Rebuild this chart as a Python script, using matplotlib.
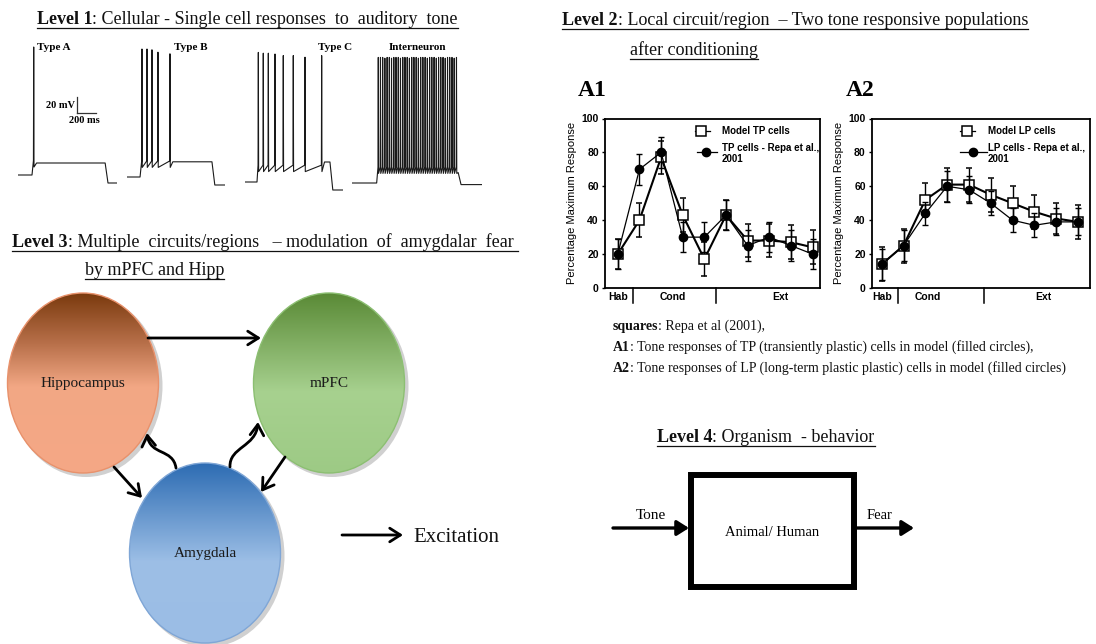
import numpy as np
import matplotlib
matplotlib.use('Agg')
import matplotlib.pyplot as plt
import matplotlib.transforms as mtransforms
from matplotlib.patches import Ellipse, FancyArrowPatch, Rectangle
from matplotlib.path import Path
from matplotlib.colors import LinearSegmentedColormap

# ---------------- data ----------------
# Level 1: single cell voltage traces (time in ms, voltage in mV)
cell_names = ['Type A', 'Type B', 'Type C', 'Interneuron']
trace_end_ms = [1040, 1030, 1030, 1365]
stim_on_ms = [147, 137, 126, 259]
stim_off_ms = [915, 892, 892, 1115]
rest_mV = [-70, -70, -70, -70]
post_mV = [-80, -80, -80, -72]
plateau_mV = [-55, -51, -45, -57]
trough_mV = [-60, -58, -57, -58]
spikes_A = [165]
peaks_A = [90]
spikes_B = [157, 210, 262, 325, 451]
peaks_B = [90, 90, 89, 86, 84]
spikes_C = [140, 192, 245, 315, 402, 507, 630, 805]
peaks_C = [92, 91, 91, 90, 88, 88, 86, 88]
spikes_I = [276, 299, 322, 345, 369, 392, 415, 439, 462, 486, 509, 533,
            556, 580, 603, 627, 650, 674, 697, 721, 744, 768, 791, 815,
            838, 862, 885, 909, 932, 956, 979, 1003, 1026, 1050, 1073, 1097]
peaks_I = [87, 87, 87, 86, 87, 87, 86, 87, 87, 87, 86, 87,
           87, 87, 86, 87, 87, 87, 86, 87, 87, 87, 86, 87,
           87, 87, 86, 87, 87, 87, 86, 87, 87, 87, 86, 87]
scale_mV = 20
scale_ms = 200

# Level 2: tone responses (percentage maximum response)
trials = [1, 2, 3, 4, 5, 6, 7, 8, 9, 10]
groups = ['Hab', 'Cond', 'Ext']
A1_model = [20, 40, 77, 43, 17, 43, 28, 28, 27, 24]
A1_model_err = [9, 10, 10, 10, 10, 9, 10, 10, 10, 10]
A1_repa = [20, 70, 80, 30, 30, 43, 25, 30, 25, 20]
A1_repa_err = [9, 9, 9, 9, 9, 9, 9, 9, 9, 9]
A1_group_pos = [1.0, 3.55, 8.5]
A1_sep = [1.72, 5.52]
A2_model = [14, 25, 52, 61, 61, 55, 50, 45, 41, 39]
A2_model_err = [10, 10, 10, 10, 10, 10, 10, 10, 9, 10]
A2_repa = [14, 25, 44, 60, 58, 50, 40, 37, 39, 39]
A2_repa_err = [9, 9, 7, 9, 8, 7, 7, 7, 8, 8]
A2_group_pos = [1.0, 3.1, 8.4]
A2_sep = [1.73, 5.67]
yticks = [0, 20, 40, 60, 80, 100]

# ---------------- figure ----------------
W, H = 1096, 644
fig = plt.figure(figsize=(W / 100, H / 100), dpi=100)
fig.patch.set_facecolor('white')
ov = fig.add_axes([0, 0, 1, 1])
ov.set_xlim(0, W); ov.set_ylim(H, 0); ov.axis('off')
ov.set_autoscale_on(False)
SERIF = 'Liberation Serif'
SANS = 'Liberation Sans'
renderer = fig.canvas.get_renderer()


def px_axes(left, top, right, bottom):
    return fig.add_axes([left / W, 1 - bottom / H, (right - left) / W, (bottom - top) / H])


def mixed(x, y, parts, size, underline=False, ul_off=4):
    cx = x
    for txt, wt in parts:
        t = ov.text(cx, y, txt, fontsize=size, fontweight=wt, family=SERIF,
                    va='baseline', ha='left', color='#111111')
        cx += t.get_window_extent(renderer=renderer).width
    if underline:
        ov.plot([x, cx], [y + ul_off, y + ul_off], color='#111111', lw=0.9)
    return cx


# ---------------- Level 1 ----------------
mixed(37, 24, [('Level 1', 'bold'), (': Cellular - Single cell responses  to  auditory  tone', 'normal')],
      13, underline=True)


def build_trace(t_end, on, off, rest, post, plateau, trough, spikes, peaks):
    t = [0, on]
    v = [rest, rest]
    for ts, pk in zip(spikes, peaks):
        t += [ts - 3, ts, ts + 3]
        v += [trough + 8, pk, trough]
    last = spikes[-1]
    t_rec = min(last + 30, off)
    t += [t_rec, off, off + 30, t_end]
    v += [plateau, plateau, post, post]
    return t, v


ms_per_px = 10.5
mV_per_px = 1.25
panel_left = [18, 127, 245, 352]
panel_base = [175, 177, 182, 183]
all_spikes = [spikes_A, spikes_B, spikes_C, spikes_I]
all_peaks = [peaks_A, peaks_B, peaks_C, peaks_I]
trace_axes = []
for i in range(4):
    wpx = trace_end_ms[i] / ms_per_px
    bottom = panel_base[i] + (rest_mV[i] + 100) / mV_per_px
    top = bottom - 200 / mV_per_px
    a = px_axes(panel_left[i], top, panel_left[i] + wpx, bottom)
    a.set_xlim(0, trace_end_ms[i]); a.set_ylim(-100, 100); a.axis('off')
    t, v = build_trace(trace_end_ms[i], stim_on_ms[i], stim_off_ms[i], rest_mV[i], post_mV[i],
                       plateau_mV[i], trough_mV[i], all_spikes[i], all_peaks[i])
    a.plot(t, v, color='#1a1a1a', lw=0.8)
    trace_axes.append(a)

label_pos = [(37, 47, 'left'), (174, 47, 'left'), (318, 47, 'left'), (417, 47, 'center')]
for name, (x, y, ha) in zip(cell_names, label_pos):
    ov.text(x, y, name, fontsize=8, fontweight='bold', family=SERIF, ha=ha, va='center')

# scale bar in Type A panel
aA = trace_axes[0]
sb_t, sb_v = 620, 7.5
aA.plot([sb_t, sb_t], [sb_v, sb_v + scale_mV], color='#333333', lw=0.9)
aA.plot([sb_t, sb_t + scale_ms], [sb_v, sb_v], color='#333333', lw=0.9)
aA.text(sb_t - 25, sb_v + scale_mV / 2, '%d mV' % scale_mV, fontsize=7.5, fontweight='bold',
        family=SERIF, ha='right', va='center')
aA.text(sb_t + scale_ms / 2 - 20, sb_v - 4, '%d ms' % scale_ms, fontsize=7.5, fontweight='bold',
        family=SERIF, ha='center', va='top')

# ---------------- Level 2 ----------------
mixed(562, 25, [('Level 2', 'bold'), (': Local circuit/region  – Two tone responsive populations', 'normal')],
      13, underline=True)
mixed(630, 55, [('after conditioning', 'normal')], 13, underline=True)
ov.text(578, 90, 'A1', fontsize=17, fontweight='bold', family=SERIF, va='center')
ov.text(846, 90, 'A2', fontsize=17, fontweight='bold', family=SERIF, va='center')


def chart(box, xlim, model, model_err, repa, repa_err, gpos, seps, leg_model, leg_repa, leg):
    ax = px_axes(*box)
    ax.set_xlim(*xlim); ax.set_ylim(0, 100)
    ax.errorbar(trials, model, yerr=model_err, fmt='-s', color='k', mfc='white', mec='k',
                ms=6.5, mew=1.1, lw=1.5, elinewidth=1, capsize=2, capthick=1, zorder=3)
    ax.errorbar(trials, repa, yerr=repa_err, fmt='-o', color='k', mfc='k', mec='k',
                ms=6, lw=0.9, elinewidth=1, capsize=2, capthick=1, zorder=4)
    for s in ax.spines.values():
        s.set_linewidth(1.3)
    ax.set_xticks([])
    ax.set_yticks(yticks)
    ax.set_yticklabels([str(v) for v in yticks], fontsize=7.5, fontweight='bold', family=SANS)
    ax.tick_params(axis='y', length=2.5, width=1, pad=2)
    ax.set_ylabel('Percentage Maximum Response', fontsize=8, family=SANS, labelpad=3)
    tr = mtransforms.blended_transform_factory(ax.transData, ax.transAxes)
    for g, p in zip(groups, gpos):
        ax.text(p, -0.055, g, transform=tr, fontsize=7.5, fontweight='bold', family=SANS,
                ha='center', va='center')
    for s in seps:
        ax.plot([s, s], [0, -0.09], transform=tr, color='k', lw=1.1, clip_on=False)
    # legend
    (l1a, l1b, m1, tx), (l2a, l2b, m2) = leg
    ax.plot([l1a, l1b], [0.926, 0.926], transform=ax.transAxes, color='k', lw=0.9, clip_on=False)
    ax.plot([m1], [0.926], transform=ax.transAxes, marker='s', ms=6.5, mfc='white', mec='k', mew=1.1,
            clip_on=False)
    ax.text(tx, 0.926, leg_model, transform=ax.transAxes, fontsize=7, fontweight='bold', family=SANS,
            va='center', ha='left')
    ax.plot([l2a, l2b], [0.802, 0.802], transform=ax.transAxes, color='k', lw=0.9, clip_on=False)
    ax.plot([m2], [0.802], transform=ax.transAxes, marker='o', ms=6, mfc='k', mec='k', clip_on=False)
    ax.text(tx, 0.855, leg_repa, transform=ax.transAxes, fontsize=7, fontweight='bold', family=SANS,
            va='top', ha='left', linespacing=1.15)
    return ax


axA1 = chart((605, 118.5, 820, 288), (0.41, 10.34), A1_model, A1_model_err, A1_repa, A1_repa_err,
             A1_group_pos, A1_sep, 'Model TP cells', 'TP cells - Repa et al.,\n2001',
             ((0.419, 0.488, 0.447, 0.544), (0.428, 0.521, 0.470)))
axA2 = chart((872, 118.5, 1090, 288), (0.555, 10.55), A2_model, A2_model_err, A2_repa, A2_repa_err,
             A2_group_pos, A2_sep, 'Model LP cells', 'LP cells - Repa et al.,\n2001',
             ((0.404, 0.474, 0.436, 0.532), (0.404, 0.528, 0.463)))

mixed(613, 330, [('squares', 'bold'), (': Repa et al (2001),', 'normal')], 10)
mixed(613, 351, [('A1', 'bold'), (': Tone responses of TP (transiently plastic) cells in model (filled circles),', 'normal')], 10)
mixed(613, 372, [('A2', 'bold'), (': Tone responses of LP (long-term plastic plastic) cells in model (filled circles)', 'normal')], 10)

# ---------------- Level 3 ----------------
mixed(12, 247, [('Level 3', 'bold'), (': Multiple  circuits/regions   – modulation  of  amygdalar  fear ', 'normal')],
      13, underline=True)
mixed(85, 275, [('by mPFC and Hipp', 'normal')], 13, underline=True)


def grad_ellipse(cx, cy, w, h, stops, edge, label):
    sh = Ellipse((cx + 3, cy + 3), w + 2, h + 2, facecolor='#8a8a8a', alpha=0.4, edgecolor='none', zorder=1)
    ov.add_patch(sh)
    cmap = LinearSegmentedColormap.from_list('g', stops)
    grad = np.linspace(0, 1, 256).reshape(-1, 1)
    im = ov.imshow(grad, cmap=cmap, extent=(cx - w / 2, cx + w / 2, cy + h / 2, cy - h / 2),
                   aspect='auto', zorder=2, interpolation='bilinear')
    clip = Ellipse((cx, cy), w, h, transform=ov.transData)
    im.set_clip_path(clip)
    ov.add_patch(Ellipse((cx, cy), w, h, facecolor='none', edgecolor=edge, lw=1.0, zorder=3))
    ov.text(cx, cy, label, fontsize=11, family=SERIF, ha='center', va='center', color='#1a1a1a', zorder=5)


grad_ellipse(83, 383, 151, 180, [(0, '#7A3A0E'), (0.28, '#B8704A'), (0.52, '#F2A784'), (1, '#F5A886')],
             '#E8916B', 'Hippocampus')
grad_ellipse(329, 383, 151, 180, [(0, '#5A8A36'), (0.55, '#A7D18F'), (1, '#9DCA85')],
             '#8CBF72', 'mPFC')
grad_ellipse(205, 553, 151, 180, [(0, '#2D6CB3'), (0.55, '#9DBFE6'), (1, '#9BBDE5')],
             '#7FA6D6', 'Amygdala')

arrow_kw = dict(arrowstyle='->,head_length=0.55,head_width=0.35', mutation_scale=14, lw=2.0,
                color='k', shrinkA=0, shrinkB=0, zorder=6)
ov.add_patch(FancyArrowPatch((148, 338), (261, 338), **arrow_kw))
ov.add_patch(FancyArrowPatch((114, 467), (142, 498), **arrow_kw))
ov.add_patch(FancyArrowPatch((285, 457), (261, 492), **arrow_kw))
p1 = Path([(176, 468), (173, 448), (150, 456), (147, 433)],
          [Path.MOVETO, Path.CURVE4, Path.CURVE4, Path.CURVE4])
ov.add_patch(FancyArrowPatch(path=p1, **arrow_kw))
p2 = Path([(230, 467), (229, 447), (256, 447), (258, 422)],
          [Path.MOVETO, Path.CURVE4, Path.CURVE4, Path.CURVE4])
ov.add_patch(FancyArrowPatch(path=p2, **arrow_kw))
ov.add_patch(FancyArrowPatch((342, 535), (403, 535), **arrow_kw))
ov.text(413, 537, 'Excitation', fontsize=15, family=SERIF, ha='left', va='center', color='#111111')

# ---------------- Level 4 ----------------
mixed(657, 442, [('Level 4', 'bold'), (': Organism  - behavior', 'normal')], 13, underline=True, ul_off=3.5)
ov.add_patch(Rectangle((691, 475), 163, 112, facecolor='none', edgecolor='k', lw=4.3, zorder=4))
big_kw = dict(arrowstyle='-|>,head_length=0.6,head_width=0.38', mutation_scale=12, lw=2.4,
              color='k', shrinkA=0, shrinkB=0, zorder=5)
ov.add_patch(FancyArrowPatch((613, 528), (689, 528), **big_kw))
ov.add_patch(FancyArrowPatch((857, 528), (914, 528), **big_kw))
ov.text(651, 519, 'Tone', fontsize=11, family=SERIF, ha='center', va='baseline')
ov.text(880, 519, 'Fear', fontsize=10.5, family=SERIF, ha='center', va='baseline')
ov.text(772, 532, 'Animal/ Human', fontsize=10.5, family=SERIF, ha='center', va='center')

ov.set_xlim(0, W); ov.set_ylim(H, 0)
fig.savefig('out.png', dpi=100, facecolor='white')
